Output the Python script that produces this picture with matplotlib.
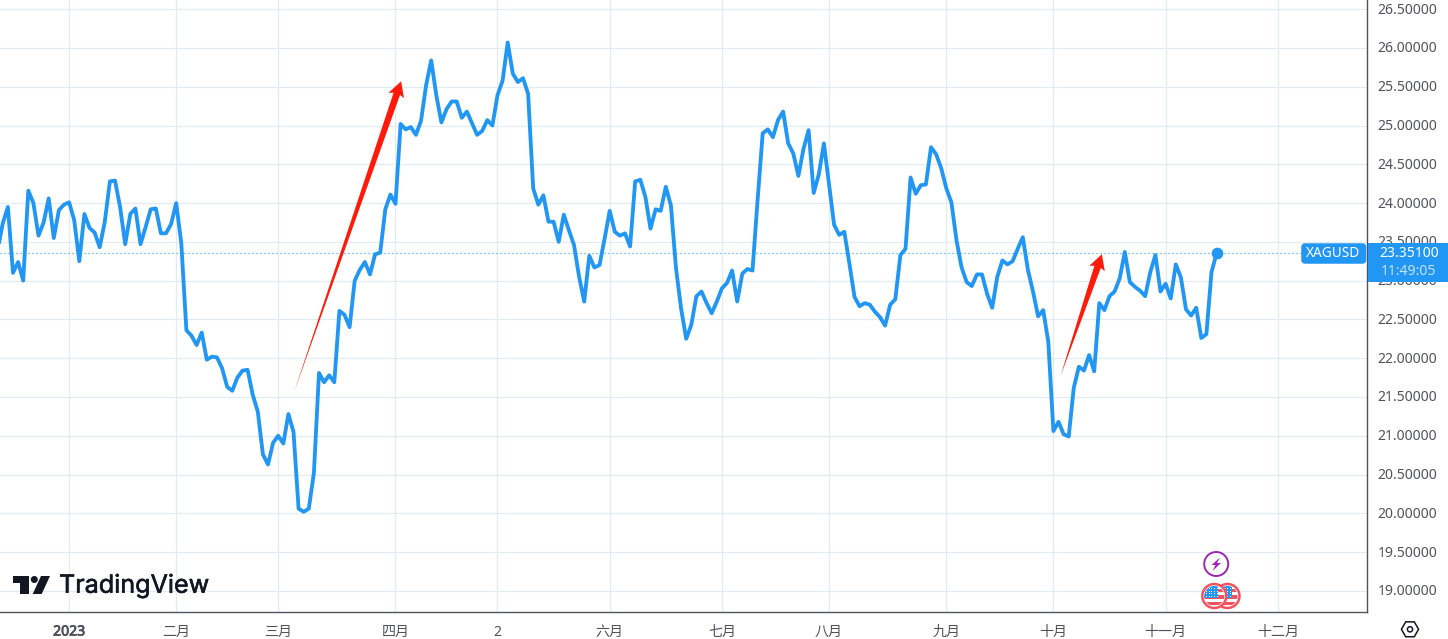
#!/usr/bin/env python3
import numpy as np
import matplotlib
matplotlib.use("Agg")  # headless
import matplotlib.pyplot as plt
import matplotlib.patheffects as pe
from matplotlib.patches import Circle, Polygon, Rectangle, FancyBboxPatch, RegularPolygon
from matplotlib.transforms import IdentityTransform, ScaledTranslation

plt.rcParams["font.family"] = ["Noto Sans", "Noto Sans CJK SC", "DejaVu Sans"]

# ---- data (daily close) ----
closes = [
    23.40, 23.74, 23.95, 23.10, 23.24, 23.00, 24.16, 24.00, 23.58, 23.75, 24.06, 23.55,
    23.91, 23.98, 24.01, 23.78, 23.25, 23.86, 23.68, 23.62, 23.43, 23.76, 24.28, 24.29,
    23.95, 23.47, 23.86, 23.93, 23.47, 23.69, 23.92, 23.93, 23.61, 23.61, 23.73, 24.00,
    23.48, 22.36, 22.29, 22.17, 22.33, 21.98, 22.02, 22.01, 21.87, 21.63, 21.58, 21.75,
    21.84, 21.85, 21.53, 21.31, 20.76, 20.63, 20.91, 21.00, 20.90, 21.28, 21.05, 20.06,
    20.02, 20.06, 20.52, 21.81, 21.69, 21.78, 21.69, 22.61, 22.56, 22.40, 23.00, 23.14,
    23.24, 23.08, 23.34, 23.36, 23.92, 24.11, 23.99, 25.02, 24.95, 24.98, 24.88, 25.06,
    25.52, 25.84, 25.39, 25.04, 25.21, 25.31, 25.31, 25.10, 25.18, 25.03, 24.88, 24.93,
    25.07, 25.00, 25.39, 25.58, 26.07, 25.67, 25.56, 25.61, 25.41, 24.19, 23.98, 24.10,
    23.76, 23.76, 23.50, 23.85, 23.65, 23.46, 23.05, 22.73, 23.32, 23.17, 23.20, 23.54,
    23.90, 23.63, 23.58, 23.61, 23.44, 24.28, 24.30, 24.08, 23.67, 23.92, 23.90, 24.21,
    23.97, 23.16, 22.64, 22.25, 22.43, 22.80, 22.86, 22.71, 22.58, 22.73, 22.90, 22.97,
    23.13, 22.73, 23.09, 23.15, 23.13, 24.04, 24.90, 24.95, 24.85, 25.07, 25.18, 24.77,
    24.64, 24.35, 24.70, 24.94, 24.13, 24.37, 24.77, 24.25, 23.72, 23.59, 23.63, 23.22,
    22.79, 22.67, 22.71, 22.69, 22.60, 22.53, 22.42, 22.69, 22.76, 23.33, 23.41, 24.33,
    24.12, 24.23, 24.24, 24.72, 24.63, 24.45, 24.19, 24.01, 23.52, 23.17, 22.98, 22.93,
    23.08, 23.08, 22.83, 22.65, 23.05, 23.26, 23.21, 23.25, 23.41, 23.56, 23.14, 22.86,
    22.54, 22.62, 22.21, 21.06, 21.18, 21.02, 20.99, 21.62, 21.89, 21.84, 22.04, 21.83,
    22.71, 22.62, 22.80, 22.86, 23.03, 23.37, 22.98, 22.92, 22.87, 22.80, 23.11, 23.33,
    22.86, 22.96, 22.77, 23.21, 23.04, 22.63, 22.55, 22.65, 22.26, 22.31, 23.11, 23.351,
]
last_price = 23.351
symbol = "XAGUSD"
countdown = "11:49:05"

price_ticks = [19.0, 19.5, 20.0, 20.5, 21.0, 21.5, 22.0, 22.5, 23.0, 23.5, 24.0, 24.5, 25.0, 25.5, 26.0, 26.5]
month_bars = [14, 35, 55, 78, 98, 120, 142, 163, 186, 207, 229, 251]
month_labels = ["2023", "二月", "三月", "四月", "2", "六月", "七月", "八月", "九月", "十月", "十一月", "十二月"]

# drawn arrows: (bar, price) of tail and tip
arrow_tails = [(58.1, 21.56), (208.4, 21.77)]
arrow_tips = [(79.1, 25.57), (216.5, 23.34)]

# ---- colours ----
BLUE = "#2196f3"
GRID = "#e3ebf2"
AXIS = "#50535e"
TEXT = "#50535e"
RED = "#ff1a0a"
DARK = "#131722"
PURPLE = "#9c27b0"
FLAG_RED = "#f4525f"

W, H = 1448, 639
PANE_W, PANE_H = 1367, 612
BAR_PX = 5.1
BAR0_PX = -2.3
PX_PER_UNIT = 77.56

fig = plt.figure(figsize=(W / 100, H / 100), dpi=100, facecolor="white")
ax = fig.add_axes([0, 1 - PANE_H / H, PANE_W / W, PANE_H / H])
ax.set_xlim(-BAR0_PX / BAR_PX, (PANE_W - BAR0_PX) / BAR_PX)
ax.set_ylim(24.5 - (PANE_H - 164.3) / PX_PER_UNIT, 24.5 + 164.3 / PX_PER_UNIT)

bars = np.arange(len(closes))
ax.plot(bars, closes, color=BLUE, lw=2.75, solid_joinstyle="round", solid_capstyle="round", zorder=4)
ax.plot(bars[-1], last_price, "o", color=BLUE, ms=8.4, mew=0, zorder=5)
ax.plot([ax.get_xlim()[0], (1301 - BAR0_PX) / BAR_PX], [last_price, last_price],
        color=BLUE, lw=0.8, ls=(0, (1, 2.6)), zorder=3)

ax.set_xticks(month_bars)
ax.set_xticklabels(month_labels)
ax.set_yticks(price_ticks)
ax.set_yticklabels([f"{p:.5f}" for p in price_ticks])
ax.yaxis.tick_right()
ax.grid(True, color=GRID, lw=0.9, zorder=0)
ax.set_axisbelow(True)
ax.tick_params(axis="x", length=0, pad=9, labelsize=10.1, labelcolor=TEXT)
ax.tick_params(axis="y", length=0, pad=7.5, labelsize=10.1, labelcolor=TEXT)
for t in ax.get_yticklabels():
    t.set_transform(t.get_transform() + ScaledTranslation(0, 1 / 100, fig.dpi_scale_trans))
# 2023 is heavier than the months; the font has no bold face so thicken it
for t in ax.get_xticklabels():
    if t.get_text() == "2023":
        t.set_path_effects([pe.withStroke(linewidth=0.6, foreground=TEXT)])
for s in ("top", "left"):
    ax.spines[s].set_visible(False)
for s in ("right", "bottom"):
    ax.spines[s].set_color(AXIS)
    ax.spines[s].set_linewidth(1.0)

# tapered hand-drawn arrows, built in pixels from the data end points
def tapered_arrow(tail, tip, head_len=15.0, head_half=8.2, neck_half=3.4):
    t0, t1 = ax.transData.transform([tail, tip])
    u = (t1 - t0) / np.hypot(*(t1 - t0))
    n = np.array([-u[1], u[0]])
    base = t1 - u * head_len
    neck = t1 - u * head_len * 0.88
    pts = [t0, neck + n * neck_half, base + n * head_half, t1, base - n * head_half, neck - n * neck_half]
    ax.add_patch(Polygon(pts, closed=True, transform=IdentityTransform(), fc=RED, ec="none", zorder=6))

for tail, tip in zip(arrow_tails, arrow_tips):
    tapered_arrow(tail, tip)

# ---- overlay in pixels for the chrome: price tags, logo, icons ----
ov = fig.add_axes([0, 0, 1, 1], facecolor="none")
ov.set_xlim(0, W)
ov.set_ylim(H, 0)
ov.axis("off")

ov.add_patch(Rectangle((PANE_W + 0.5, 243.3), W - PANE_W, 38.5, fc=BLUE, ec="none"))
ov.add_patch(FancyBboxPatch((1303, 245), 61.5, 17, boxstyle="round,pad=0,rounding_size=2", fc=BLUE, ec=BLUE, lw=2.5))
ov.text(1333, 253.5, symbol, color="white", fontsize=9.8, ha="center", va="center", weight="medium")
ov.text(1409, 253.5, f"{last_price:.5f}", color="white", fontsize=10.1, ha="center", va="center", weight="medium")
ov.text(1409, 271.5, countdown, color="#c4e2fb", fontsize=10.1, ha="center", va="center", weight="medium")

# TradingView mark + wordmark
ov.add_patch(Polygon([(13, 576), (29.3, 576), (29.3, 594), (20, 594), (20, 583.3), (13, 583.3)], fc=DARK, ec="none"))
ov.add_patch(Circle((34.3, 579.5), 3.5, fc=DARK, ec="none"))
ov.add_patch(Polygon([(41, 576), (50, 576), (41.7, 594), (32.7, 594)], fc=DARK, ec="none"))
ov.text(59, 586, "TradingView", color=DARK, fontsize=18.1, family="Inter", ha="left", va="center",
        path_effects=[pe.withStroke(linewidth=0.4, foreground=DARK)])

# events: lightning and US flags
ov.add_patch(Circle((1216.2, 564), 12, fc="white", ec=PURPLE, lw=1.4))
ov.add_patch(Polygon([(1220, 557.5), (1211.5, 565), (1215.5, 565), (1212.5, 571), (1221, 563), (1217, 563)], fc=PURPLE, ec="none"))

def flag(cx, cy, r):
    ov.add_patch(Circle((cx, cy), r, fc="white", ec=FLAG_RED, lw=1.8, zorder=3))
    inner = Circle((cx, cy), r - 2.0, transform=ov.transData)
    for dy in (-5.5, 1.0, 7.5):
        st = Rectangle((cx - r, cy + dy - 1.6), 2 * r, 3.2, fc=FLAG_RED, ec="none", zorder=3)
        ov.add_patch(st)
        st.set_clip_path(inner)
    can = Rectangle((cx - 10, cy - 10), 14, 12, fc=BLUE, ec="none", zorder=3)
    ov.add_patch(can)
    can.set_clip_path(inner)
    for gx in np.arange(cx - 8, cx + 3.5, 2.6):
        for gy in np.arange(cy - 8, cy + 2, 2.6):
            dot = Rectangle((gx, gy), 0.9, 0.9, fc="white", ec="none", zorder=3)
            ov.add_patch(dot)
            dot.set_clip_path(inner)

flag(1227.5, 596, 12)
flag(1214.3, 596, 12)

# settings hexagon
ov.add_patch(RegularPolygon((1410, 629.3), 6, radius=8.6, orientation=np.pi / 6, fc="white", ec=DARK, lw=1.1))
ov.add_patch(Circle((1410, 629.3), 2.6, fc="white", ec=DARK, lw=1.1))

fig.savefig("out.png", dpi=100)
